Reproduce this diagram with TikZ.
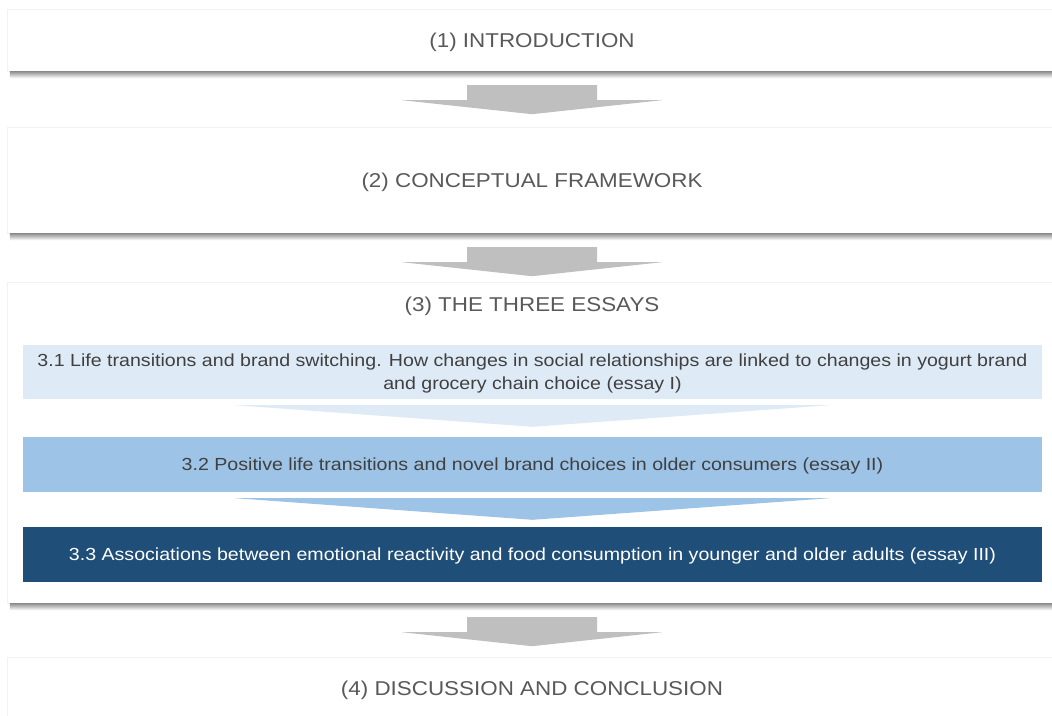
\documentclass[tikz,border=0pt]{standalone}
\usepackage{fontspec}
\setmainfont{Liberation Sans}[FakeStretch=1.12]
\usetikzlibrary{calc}

\definecolor{headgray}{HTML}{595959}
\definecolor{bodygray}{HTML}{404040}
\definecolor{arrowgray}{HTML}{BFBFBF}
\definecolor{essayone}{HTML}{DEEBF7}
\definecolor{essaytwo}{HTML}{9DC3E6}
\definecolor{essaythree}{HTML}{1F4E79}

\tikzset{
  part/.style={draw=black!5, fill=white, minimum width=1050pt, inner sep=0pt,
    text depth=0pt, text=headgray, font=\fontsize{20}{24}\selectfont},
  essay/.style={minimum width=1019pt, inner sep=0pt, align=center, text depth=0pt,
    text=bodygray, font=\fontsize{17.5}{23}\selectfont},
  flowarrow/.style={fill=arrowgray},
  dropshadow/.style={top color=black!45, bottom color=white}
}

\begin{document}
\begin{tikzpicture}[x=1pt, y=-1pt]
\useasboundingbox (0,0) rectangle (1052,715);
\clip (0,0) rectangle (1052,715);

% the four parts of the thesis
\node[part, minimum height=62pt] (intro) at (532,40) {(1) INTRODUCTION};
\node[part, minimum height=106pt] (frame) at (532,180) {(2) CONCEPTUAL FRAMEWORK};
\node[part, minimum height=321pt] (essays) at (532,442.5) {};
\node[part, minimum height=62pt] (disc) at (532,688) {(4) DISCUSSION AND CONCLUSION};
\node[text=headgray, text depth=0pt, font=\fontsize{20}{24}\selectfont] (essaystitle) at (532,304) {(3) THE THREE ESSAYS};

% shadows under the part boxes
\shade[dropshadow] ($(intro.south west)+(3,0)$) rectangle ($(intro.south east)+(0,7)$);
\shade[dropshadow] ($(frame.south west)+(3,0)$) rectangle ($(frame.south east)+(0,7)$);
\shade[dropshadow] ($(essays.south west)+(3,0)$) rectangle ($(essays.south east)+(0,7)$);

% the three essays
\node[essay, fill=essayone, minimum height=54pt] (e1) at (532.5,372)
  {3.1 Life transitions and brand switching. How changes in social relationships are linked to changes in yogurt brand\\
   and grocery chain choice (essay I)};
\node[essay, fill=essaytwo, minimum height=55pt] (e2) at (532.5,464.5)
  {3.2 Positive life transitions and novel brand choices in older consumers (essay II)};
\node[essay, fill=essaythree, text=white, minimum height=55pt] (e3) at (532.5,554.5)
  {3.3 Associations between emotional reactivity and food consumption in younger and older adults (essay III)};

% wedges between the essays
\fill[essayone] ($(e1.south)+(-297,6)$) -- ++(594,0) -- ($(e2.north)+(0,-10)$) -- cycle;
\fill[essaytwo] ($(e2.south)+(-297,6)$) -- ++(594,0) -- ($(e3.north)+(0,-7)$) -- cycle;

% block arrows between the parts
\fill[flowarrow] ($(intro.south)+(-65,14)$) -- ++(130,0) -- ++(0,15) -- ++(65,0)
  -- ++(-130,14) -- ++(-130,-14) -- ++(65,0) -- cycle;
\fill[flowarrow] ($(frame.south)+(-65,14)$) -- ++(130,0) -- ++(0,15) -- ++(65,0)
  -- ++(-130,14) -- ++(-130,-14) -- ++(65,0) -- cycle;
\fill[flowarrow] ($(essays.south)+(-65,14)$) -- ++(130,0) -- ++(0,15) -- ++(65,0)
  -- ++(-130,14) -- ++(-130,-14) -- ++(65,0) -- cycle;
\end{tikzpicture}
\end{document}
